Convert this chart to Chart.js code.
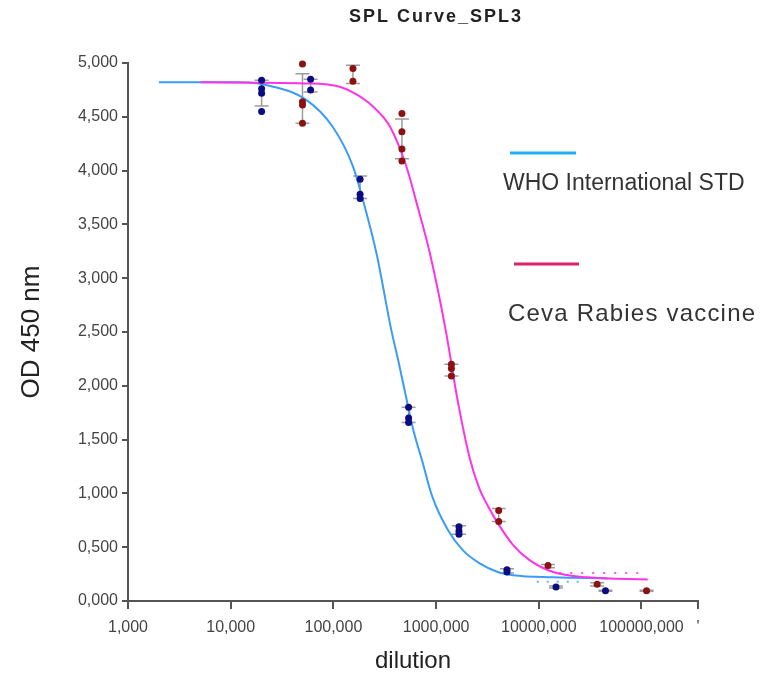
<!DOCTYPE html>
<html>
<head>
<meta charset="utf-8">
<script src="https://cdn.jsdelivr.net/npm/chart.js@4.4.1/dist/chart.umd.min.js"></script>
<style>
    html, body { margin: 0; padding: 0; background: #ffffff; }
    #wrap { width: 765px; height: 679px; position: relative; }
</style>
</head>
<body>
<div id="wrap"><canvas id="splChart"></canvas></div>
<script>
// axis ticks
const xTickValues = [1, 10, 100, 1000, 10000, 100000, 355000];
const xTickLabels = ["1,000", "10,000", "100,000", "1000,000", "10000,000", "100000,000", "'"];
const yTickValues = [0, 0.5, 1, 1.5, 2, 2.5, 3, 3.5, 4, 4.5, 5];
const yTickLabels = ["0,000", "0,500", "1,000", "1,500", "2,000", "2,500", "3,000", "3,500", "4,000", "4,500", "5,000"];

const seriesNames = ["WHO International STD", "Ceva Rabies vaccine"];

// WHO International STD - replicates per dilution
const whoGroupX = [20, 60, 182, 540, 1670, 4900, 14700, 44600];
const whoReplicates = [
    [4.84, 4.76, 4.72, 4.55],
    [4.85, 4.75],
    [3.92, 3.78, 3.74],
    [1.80, 1.70, 1.66],
    [0.69, 0.65, 0.62],
    [0.29, 0.27],
    [0.13],
    [0.096]
];
const whoErrLow = [4.60, 4.73, 3.74, 1.66, 0.62, 0.26, 0.12, 0.09];
const whoErrHigh = [4.84, 4.85, 3.95, 1.80, 0.70, 0.30, 0.14, 0.10];

// Ceva Rabies vaccine - replicates per dilution
const cevaGroupX = [50, 155, 465, 1410, 4070, 12300, 37000, 112000];
const cevaReplicates = [
    [4.99, 4.64, 4.61, 4.44],
    [4.95, 4.83],
    [4.53, 4.36, 4.20, 4.09],
    [2.20, 2.16, 2.09],
    [0.84, 0.74],
    [0.33],
    [0.155],
    [0.096]
];
const cevaErrLow = [4.44, 4.81, 4.11, 2.09, 0.74, 0.31, 0.14, 0.09];
const cevaErrHigh = [4.90, 4.98, 4.48, 2.20, 0.86, 0.34, 0.17, 0.10];

// fitted curves
const whoCurveX = [2, 12, 26, 54, 98, 155, 200, 263, 366, 434, 501, 596, 743, 918, 1303, 1828, 2655, 3981, 5623, 13800, 46800];
const whoCurveY = [4.82, 4.82, 4.78, 4.66, 4.41, 4.04, 3.68, 3.23, 2.52, 2.21, 1.93, 1.60, 1.28, 0.97, 0.66, 0.47, 0.35, 0.27, 0.24, 0.22, 0.21];
const cevaCurveX = [5.1, 54, 115, 166, 240, 355, 513, 646, 871, 1239, 1596, 2123, 2630, 3206, 3890, 5623, 8128, 13800, 29500, 115000];
const cevaCurveY = [4.82, 4.81, 4.78, 4.71, 4.60, 4.41, 4.04, 3.70, 3.23, 2.52, 1.90, 1.33, 1.05, 0.88, 0.74, 0.52, 0.38, 0.27, 0.22, 0.20];

// dotted band segments near the bottom plateau
const whoBandX = [9550, 26900];
const whoBandY = [0.18, 0.18];
const cevaBandX = [15800, 100000];
const cevaBandY = [0.26, 0.26];

const FONT = "'Liberation Sans', Arial, sans-serif";

function toPoints(xs, ys) {
    return xs.map(function (x, i) { return { x: x, y: ys[i] }; });
}

function replicatePoints(groupX, replicates) {
    const pts = [];
    groupX.forEach(function (x, i) {
        replicates[i].forEach(function (y) { pts.push({ x: x, y: y }); });
    });
    return pts;
}

const errorGroups = [
    { x: whoGroupX, low: whoErrLow, high: whoErrHigh },
    { x: cevaGroupX, low: cevaErrLow, high: cevaErrHigh }
];

const errorBarPlugin = {
    id: "errorBars",
    beforeDatasetsDraw(chart) {
        const ctx = chart.ctx;
        const xs = chart.scales.x;
        const ys = chart.scales.y;
        ctx.save();
        ctx.strokeStyle = "#9c9c9c";
        ctx.lineWidth = 1.5;
        errorGroups.forEach(function (g) {
            g.x.forEach(function (x, i) {
                const px = xs.getPixelForValue(x);
                const lo = ys.getPixelForValue(g.low[i]);
                const hi = ys.getPixelForValue(g.high[i]);
                ctx.beginPath();
                ctx.moveTo(px, lo);
                ctx.lineTo(px, hi);
                ctx.moveTo(px - 7, lo);
                ctx.lineTo(px + 7, lo);
                ctx.moveTo(px - 7, hi);
                ctx.lineTo(px + 7, hi);
                ctx.stroke();
            });
        });
        ctx.restore();
    }
};

const labelsPlugin = {
    id: "sideLabels",
    afterDraw(chart) {
        const ctx = chart.ctx;
        ctx.save();
        // title
        ctx.fillStyle = "#222222";
        ctx.font = "bold 18px " + FONT;
        ctx.letterSpacing = "2px";
        ctx.textAlign = "center";
        ctx.textBaseline = "middle";
        ctx.fillText("SPL Curve_SPL3", 436, 17);
        ctx.letterSpacing = "0px";

        // legend
        ctx.lineWidth = 3;
        ctx.strokeStyle = "#1fb0f0";
        ctx.beginPath();
        ctx.moveTo(510, 153);
        ctx.lineTo(576, 153);
        ctx.stroke();
        ctx.strokeStyle = "#e0206e";
        ctx.beginPath();
        ctx.moveTo(514, 264);
        ctx.lineTo(579, 264);
        ctx.stroke();

        ctx.fillStyle = "#333333";
        ctx.textAlign = "left";
        ctx.textBaseline = "alphabetic";
        ctx.font = "23px " + FONT;
        ctx.fillText(seriesNames[0], 503, 190);
        ctx.font = "24px " + FONT;
        ctx.letterSpacing = "1.2px";
        ctx.fillText(seriesNames[1], 508, 321);
        ctx.letterSpacing = "0px";
        ctx.restore();
    }
};

const chartConfig = {
    type: "scatter",
    data: {
        datasets: [
            {
                label: seriesNames[0] + " data",
                data: replicatePoints(whoGroupX, whoReplicates),
                backgroundColor: "#0c0c82",
                borderWidth: 0,
                pointRadius: 3.5,
                clip: false,
                order: 0
            },
            {
                label: seriesNames[1] + " data",
                data: replicatePoints(cevaGroupX, cevaReplicates),
                backgroundColor: "#8a1212",
                borderWidth: 0,
                pointRadius: 3.5,
                clip: false,
                order: 0
            },
            {
                label: seriesNames[1],
                data: toPoints(cevaCurveX, cevaCurveY),
                showLine: true,
                borderColor: "#ff33e6",
                borderWidth: 2,
                pointRadius: 0,
                cubicInterpolationMode: "monotone",
                order: 1
            },
            {
                label: seriesNames[0],
                data: toPoints(whoCurveX, whoCurveY),
                showLine: true,
                borderColor: "#3a9cf8",
                borderWidth: 2,
                pointRadius: 0,
                cubicInterpolationMode: "monotone",
                order: 2
            },
            {
                label: "WHO band",
                data: toPoints(whoBandX, whoBandY),
                showLine: true,
                borderColor: "#5ab4ff",
                borderWidth: 2,
                borderDash: [2, 8],
                pointRadius: 0,
                order: 3
            },
            {
                label: "Ceva band",
                data: toPoints(cevaBandX, cevaBandY),
                showLine: true,
                borderColor: "#ff55ea",
                borderWidth: 2,
                borderDash: [2, 9],
                pointRadius: 0,
                order: 3
            }
        ]
    },
    options: {
        responsive: true,
        maintainAspectRatio: false,
        animation: false,
        layout: {
            padding: { top: 63, right: 67, bottom: 0, left: 0 }
        },
        plugins: {
            legend: { display: false },
            title: { display: false },
            tooltip: { enabled: false }
        },
        scales: {
            x: {
                type: "logarithmic",
                min: 1,
                max: 355000,
                afterBuildTicks: function (scale) {
                    scale.ticks = xTickValues.map(function (v) { return { value: v }; });
                },
                afterFit: function (scale) { scale.height = 78; },
                border: { color: "#555555", width: 2 },
                grid: { drawOnChartArea: false, drawTicks: true, tickLength: 8, color: "#555555", lineWidth: 2 },
                ticks: {
                    autoSkip: false,
                    maxRotation: 0,
                    minRotation: 0,
                    padding: 9,
                    color: "#444444",
                    font: { family: FONT, size: 16 },
                    callback: function (value, index) { return xTickLabels[index]; }
                },
                title: {
                    display: true,
                    text: "dilution",
                    color: "#222222",
                    font: { family: FONT, size: 24 },
                    padding: { top: 0, bottom: 3 }
                }
            },
            y: {
                type: "linear",
                min: 0,
                max: 5,
                afterBuildTicks: function (scale) {
                    scale.ticks = yTickValues.map(function (v) { return { value: v }; });
                },
                afterFit: function (scale) { scale.width = 128; },
                border: { color: "#555555", width: 2 },
                grid: { drawOnChartArea: false, drawTicks: true, tickLength: 6, color: "#555555", lineWidth: 2 },
                ticks: {
                    padding: 4,
                    color: "#444444",
                    font: { family: FONT, size: 16 },
                    callback: function (value, index) { return yTickLabels[index]; }
                },
                title: {
                    display: true,
                    text: "OD 450 nm",
                    color: "#222222",
                    font: { family: FONT, size: 26 },
                    padding: { top: 16, bottom: 0 }
                }
            }
        }
    },
    plugins: [errorBarPlugin, labelsPlugin]
};

const splChart = new Chart(document.getElementById("splChart").getContext("2d"), chartConfig);
</script>
</body>
</html>
